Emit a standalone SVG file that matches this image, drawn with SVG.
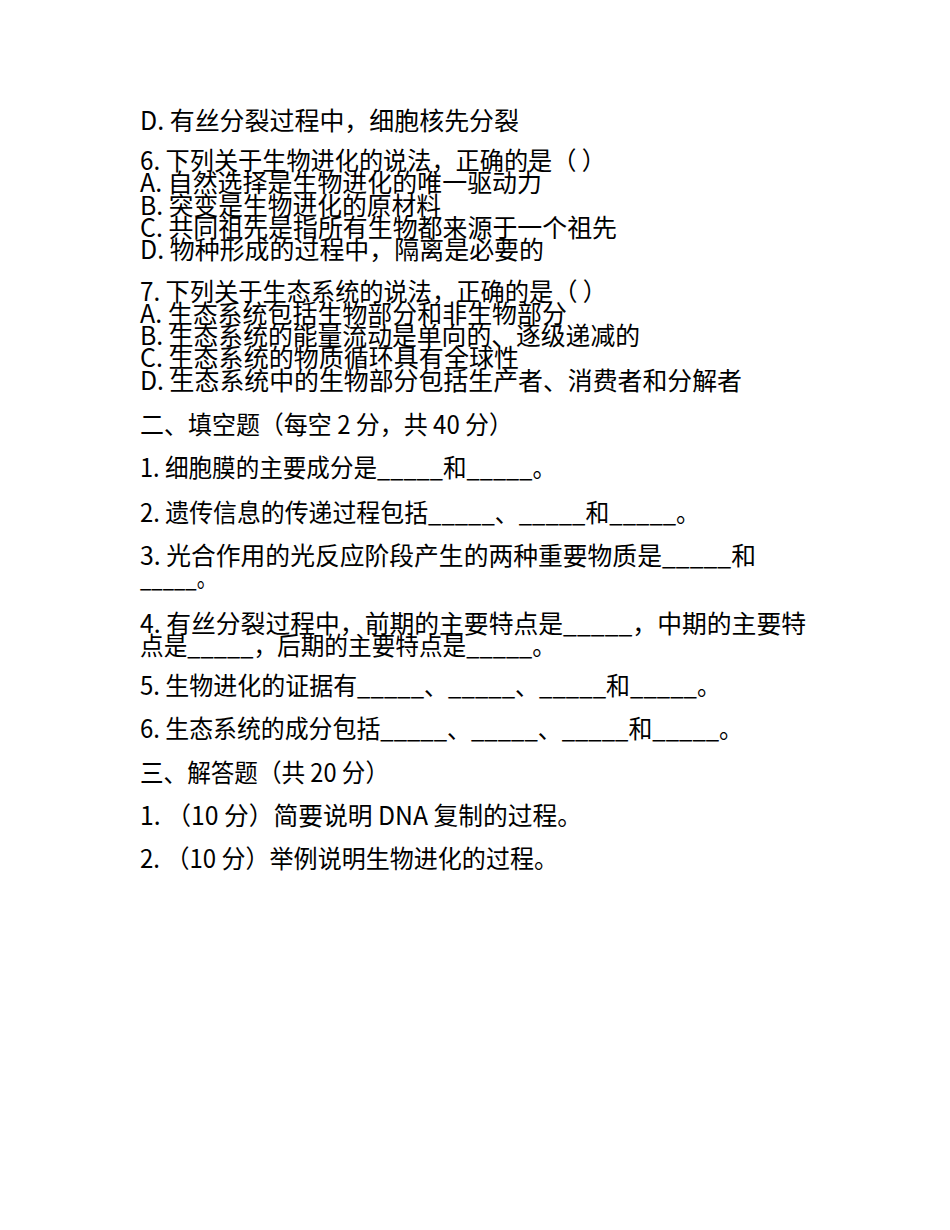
<svg xmlns="http://www.w3.org/2000/svg" width="950" height="1230" viewBox="0 0 950 1230">
<style>
text{font-family:"Noto Sans CJK SC","Microsoft YaHei","Noto Sans",sans-serif;font-size:25px;fill:#000}
</style>
<rect width="950" height="1230" fill="#fff"/>
<g id="page" lengthAdjust="spacingAndGlyphs">
<text x="140" y="130" textLength="379" lengthAdjust="spacingAndGlyphs">D. 有丝分裂过程中，细胞核先分裂</text>
<text x="140" y="170" textLength="466" lengthAdjust="spacingAndGlyphs">6. 下列关于生物进化的说法，正确的是（ ）</text>
<text x="140" y="192" textLength="402" lengthAdjust="spacingAndGlyphs">A. 自然选择是生物进化的唯一驱动力</text>
<text x="140" y="215" textLength="301" lengthAdjust="spacingAndGlyphs">B. 突变是生物进化的原材料</text>
<text x="140" y="237" textLength="477" lengthAdjust="spacingAndGlyphs">C. 共同祖先是指所有生物都来源于一个祖先</text>
<text x="140" y="259" textLength="404" lengthAdjust="spacingAndGlyphs">D. 物种形成的过程中，隔离是必要的</text>
<text x="140" y="301" textLength="467" lengthAdjust="spacingAndGlyphs">7. 下列关于生态系统的说法，正确的是（ ）</text>
<text x="140" y="323" textLength="427" lengthAdjust="spacingAndGlyphs">A. 生态系统包括生物部分和非生物部分</text>
<text x="140" y="345" textLength="500" lengthAdjust="spacingAndGlyphs">B. 生态系统的能量流动是单向的、逐级递减的</text>
<text x="140" y="367" textLength="379" lengthAdjust="spacingAndGlyphs">C. 生态系统的物质循环具有全球性</text>
<text x="140" y="390" textLength="602" lengthAdjust="spacingAndGlyphs">D. 生态系统中的生物部分包括生产者、消费者和分解者</text>
<text x="140" y="434" textLength="373" lengthAdjust="spacingAndGlyphs">二、填空题（每空 2 分，共 40 分）</text>
<text x="140" y="477" textLength="416" lengthAdjust="spacingAndGlyphs">1. 细胞膜的主要成分是_____和_____。</text>
<text x="140" y="522" textLength="560" lengthAdjust="spacingAndGlyphs">2. 遗传信息的传递过程包括_____、_____和_____。</text>
<text x="140" y="565" textLength="616" lengthAdjust="spacingAndGlyphs">3. 光合作用的光反应阶段产生的两种重要物质是_____和</text>
<text x="140" y="587" textLength="77" lengthAdjust="spacingAndGlyphs">_____。</text>
<text x="140" y="633" textLength="666" lengthAdjust="spacingAndGlyphs">4. 有丝分裂过程中，前期的主要特点是_____，中期的主要特</text>
<text x="140" y="655" textLength="416" lengthAdjust="spacingAndGlyphs">点是_____，后期的主要特点是_____。</text>
<text x="140" y="695" textLength="581" lengthAdjust="spacingAndGlyphs">5. 生物进化的证据有_____、_____、_____和_____。</text>
<text x="140" y="738" textLength="603" lengthAdjust="spacingAndGlyphs">6. 生态系统的成分包括_____、_____、_____和_____。</text>
<text x="140" y="782" textLength="249" lengthAdjust="spacingAndGlyphs">三、解答题（共 20 分）</text>
<text x="140" y="825" textLength="442" lengthAdjust="spacingAndGlyphs">1. （10 分）简要说明 DNA 复制的过程。</text>
<text x="140" y="868" textLength="418" lengthAdjust="spacingAndGlyphs">2. （10 分）举例说明生物进化的过程。</text>
</g>
</svg>
